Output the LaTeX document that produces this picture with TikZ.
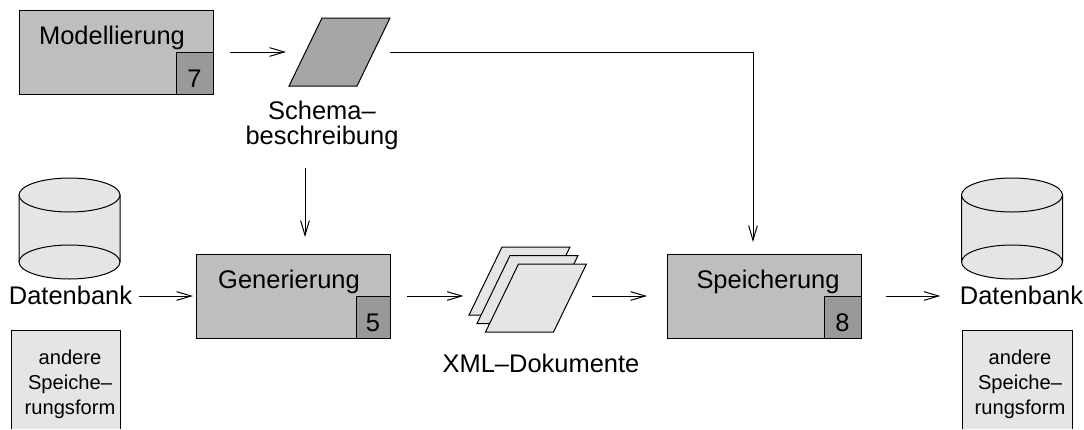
\documentclass[tikz,border=0pt]{standalone}
\usepackage{fontspec}
\setmainfont{Liberation Sans}
\usetikzlibrary{arrows.meta, positioning}
\tikzset{>={Straight Barb[length=11pt,width=6.5pt]}}
\definecolor{boxgray}{HTML}{BEBEBE}
\definecolor{numgray}{HTML}{999999}
\definecolor{schemagray}{HTML}{A6A6A6}
\definecolor{lightgray}{HTML}{E5E5E5}
\tikzset{
    stepbox/.style={draw,fill=boxgray,minimum width=145.5pt,minimum height=63pt,inner sep=0pt,outer sep=0pt},
    numbox/.style={draw,fill=numgray,minimum height=31.5pt,inner sep=0pt,outer sep=0pt,anchor=south east,text height=21pt,text depth=0pt,font=\fontsize{19.1}{18.75}\selectfont},
    sheet/.style={draw,xslant=0.485,minimum width=51pt,minimum height=51pt,inner sep=0pt,outer sep=0pt},
    biglabel/.style={inner sep=0pt,anchor=base,align=center,font=\fontsize{19.1}{18.75}\selectfont},
    smalllabel/.style={inner sep=0pt,anchor=base,align=center,font=\fontsize{15.1}{18.75}\selectfont},
    conn/.style={->,line width=0.75pt},
}
\begin{document}
\begin{tikzpicture}[x=0.75pt,y=-0.75pt,line width=0.75pt]
    \useasboundingbox (0,0) rectangle (1084,429);
    % databases and other storage forms
    \foreach \cx/\lx/\bl/\br/\tx/\nm in {69.5/70.5/11/120/70/l,1012/1021.5/962/1072/1020/r} {
        \draw[fill=lightgray] (\cx-50.5,195) -- (\cx-50.5,262) arc[start angle=180,end angle=360,x radius=50.5,y radius=-17] -- (\cx+50.5,195) -- cycle;
        \draw[fill=lightgray] (\cx,195) ellipse[x radius=50.5,y radius=-17];
        \draw (\cx-50.5,262) arc[start angle=180,end angle=0,x radius=50.5,y radius=-17];
        \draw[fill=lightgray] (\bl,429) -- (\bl,330) -- (\br,330) -- (\br,429);
        \node[smalllabel] (other\nm) at (\tx,414) {andere\\Speiche--\\rungsform};
        \node[biglabel] (db\nm) at (\lx,304) {Datenbank};
    }
    \node[stepbox] (model) at (116,52) {};
    \node[stepbox] (gen) at (293,296) {};
    \node[stepbox] (store) at (764,296) {};
    \node[numbox,minimum width=27.75pt] (num7) at (model.south east) {7};
    \node[numbox,minimum width=25.5pt] (num5) at (gen.south east) {5};
    \node[numbox,minimum width=27.75pt] (num8) at (store.south east) {8};
    \node[biglabel] (modeltext) at (112,44) {Modellierung};
    \node[biglabel] (gentext) at (289,288) {Generierung};
    \node[biglabel] (storetext) at (768,288) {Speicherung};
    \node[sheet,fill=schemagray] (schema) at (339.5,52) {};
    \node[biglabel] (schematext) at (322,144) {Schema--\\beschreibung};
    \node[sheet,fill=lightgray] (xml1) at (519.5,281) {};
    \node[sheet,fill=lightgray] (xml2) at (527.5,289.5) {};
    \node[sheet,fill=lightgray] (xml3) at (536,298) {};
    \node[biglabel] (xmltext) at (541,372) {XML--Dokumente};

    \draw[conn,shorten <=12.75pt,shorten >=14.6pt] (model.east) -- (schema.west);
    \draw[conn,shorten <=12.4pt,shorten >=9pt] (schema.east) -| ([xshift=-8.25pt]store.north);
    \draw[conn,shorten <=14pt,shorten >=12.75pt] ([xshift=-12.75pt]schematext.south) -- ([xshift=9pt]gen.north);
    \draw[conn,shorten <=4.5pt,shorten >=2.25pt] (dbl.east |- gen.west) -- (gen.west);
    \draw[conn,shorten <=12.75pt,shorten >=16.5pt] (gen.east) -- (gen.east -| xml1.west);
    \draw[conn,shorten <=16.5pt,shorten >=15pt] (xml3.east |- store.west) -- (store.west);
    \draw[conn,shorten <=18.75pt,shorten >=14.25pt] (store.east) -- (store.east -| dbr.west);
\end{tikzpicture}
\end{document}
